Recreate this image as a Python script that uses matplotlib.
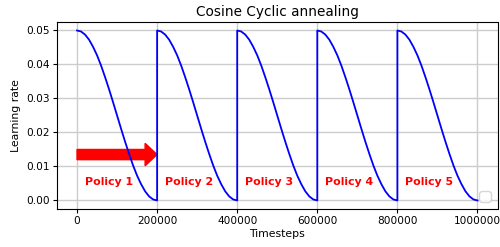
import matplotlib
matplotlib.use('Agg')
import matplotlib.pyplot as plt
import numpy as np

# Schedule
cycle_length = 200000
cycle_starts = [0, 200000, 400000, 600000, 800000]
policy_labels = ['Policy 1', 'Policy 2', 'Policy 3', 'Policy 4', 'Policy 5']

# learning rate across one cycle (fraction of cycle -> lr)
cycle_frac = [0.0, 0.05, 0.1, 0.15, 0.2, 0.25, 0.3, 0.35, 0.4, 0.45, 0.5,
              0.55, 0.6, 0.65, 0.7, 0.75, 0.8, 0.85, 0.9, 0.95, 1.0]
cycle_lr = [0.0500, 0.0497, 0.0488, 0.0473, 0.0452, 0.0427, 0.0397, 0.0363,
            0.0327, 0.0289, 0.0250, 0.0211, 0.0173, 0.0137, 0.0103, 0.0073,
            0.0048, 0.0027, 0.0012, 0.0003, 0.0000]

steps = []
lrs = []
for start in cycle_starts:
    steps += [start + f * cycle_length for f in cycle_frac]
    lrs += cycle_lr

fig = plt.figure(figsize=(5, 2.47), dpi=100)
ax = fig.add_axes([0.114, 0.154, 0.881, 0.757])

ax.plot(steps, lrs, color='blue', linewidth=1.3)
ax.grid(True, color='#cccccc', linewidth=1)
ax.set_axisbelow(True)

# arrow for first policy
ax.arrow(0, 0.0135, 200000, 0, width=0.0030, head_width=0.0066,
         head_length=30000, length_includes_head=True,
         facecolor='red', edgecolor='red')

for start, label in zip(cycle_starts, policy_labels):
    ax.text(start + 20000, 0.0055, label, color='red', fontweight='bold',
            fontsize=7.9, va='center', ha='left')

ax.set_title('Cosine Cyclic annealing', fontsize=9.8, pad=4)
ax.set_xlabel('Timesteps', fontsize=7.8, labelpad=2)
ax.set_ylabel('Learning rate', fontsize=7.8, labelpad=4)
ax.set_xticks([0, 200000, 400000, 600000, 800000, 1000000])
ax.set_yticks([0.0, 0.01, 0.02, 0.03, 0.04, 0.05])
ax.ticklabel_format(axis='x', style='plain', useOffset=False)
ax.tick_params(labelsize=7.6, length=3, pad=2)
ax.legend(loc='lower right')

fig.savefig('out.png', dpi=100)
